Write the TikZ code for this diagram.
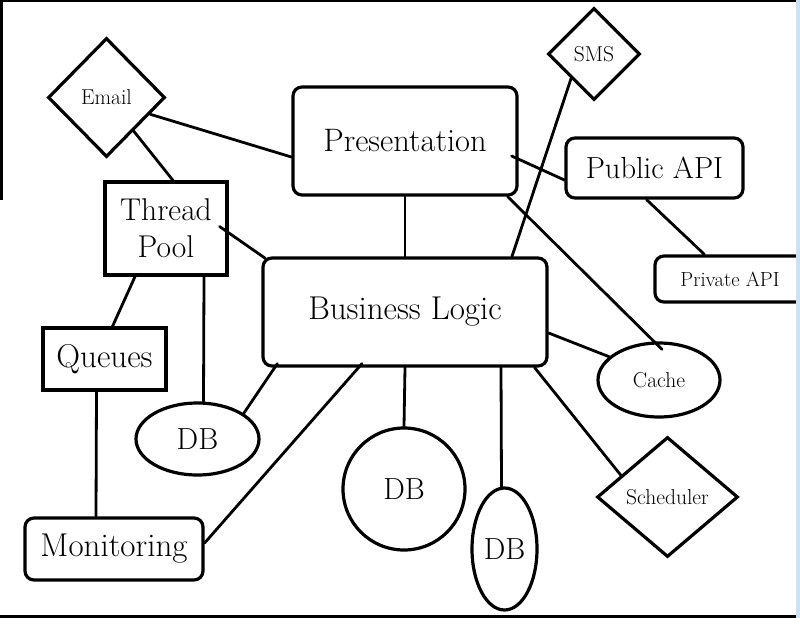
\documentclass[tikz,border=0pt]{standalone}
\usetikzlibrary{shapes.geometric,calc}
\definecolor{stripblue}{RGB}{205,225,243}
\begin{document}
\begin{tikzpicture}[x=1pt,y=-1pt,
  box/.style={draw, line width=3.2pt, inner sep=0pt, align=center},
  rbox/.style={box, rounded corners=9pt},
  conn/.style={line width=2.8pt, line cap=round},
  big/.style={font=\fontsize{32.5}{37}\selectfont},
  mid/.style={font=\fontsize{30.5}{32}\selectfont},
  small/.style={font=\fontsize{21.5}{24}\selectfont}]
\useasboundingbox (0,0) rectangle (800,618);
\clip (0,0) rectangle (800,618);
% frame artifacts
\fill[black] (0,0) rectangle (796,2.5);
\fill[black] (0,0) rectangle (2.5,200);
\fill[black] (0,614.5) rectangle (796,618);
% nodes
\node[rbox, big, minimum width=224, minimum height=108] (pres) at (405,141) {Presentation};
\node[rbox, font=\fontsize{33}{37}\selectfont, minimum width=284, minimum height=108] (bl) at (405,312) {Business Logic};
\node[rbox, font=\fontsize{30.5}{34}\selectfont, minimum width=177, minimum height=60] (pub) at (654.5,168) {Public API};
\node[rbox, font=\fontsize{20.5}{24}\selectfont, minimum width=165, minimum height=46] (priv) at (737.5,279) {Private API\hspace*{15pt}};
\node[box, font=\fontsize{31.5}{37}\selectfont, minimum width=122, minimum height=93] (thread) at (166,228.5) {Thread\\Pool};
\node[box, font=\fontsize{33}{36}\selectfont, minimum width=123, minimum height=62] (queues) at (104.5,359) {Queues};
\node[rbox, font=\fontsize{33}{36}\selectfont, minimum width=178, minimum height=62] (mon) at (114,549) {Monitoring};
\node[box, ellipse, mid, minimum width=123, minimum height=72] (db1) at (197.5,439) {DB};
\node[box, ellipse, mid, minimum width=122, minimum height=122] (db2) at (404,489) {DB};
\node[box, ellipse, mid, minimum width=65, minimum height=122] (db3) at (504.5,549) {DB};
\node[box, ellipse, small, minimum width=122, minimum height=74] (cache) at (659,380) {Cache};
\node[box, diamond, small, minimum width=117, minimum height=119] (email) at (106.5,97.5) {Email};
\node[box, diamond, small, minimum width=92, minimum height=92] (sms) at (594,54) {SMS};
\node[box, diamond, small, minimum width=141, minimum height=120] (sched) at (667.5,497) {Scheduler};
% connectors
\draw[conn] (email.-21) -- ($(pres.west)+(0,16)$);
\draw[conn] (email.-51) -- ($(thread.north)+(7,0)$);
\draw[conn] ($(pres.east)+(-7,15)$) -- ($(pub.west)+(0,12)$);
\draw[conn] (pres.south) -- (bl.north);
\draw[conn] (sms.-133) -- ($(bl.north)+(107,0)$);
\draw[conn] ($(pres.south east)+(-11,0)$) -- ($(cache.north)+(3,8)$);
\draw[conn] ($(pub.south)+(-8,0)$) -- ($(priv.north west)+(51,0)$);
\draw[conn] ($(thread.east)+(-9,-2)$) -- ($(bl.north west)+(4,2)$);
\draw[conn] ($(thread.south)+(-31,0)$) -- ($(queues.north)+(8,0)$);
\draw[conn] ($(thread.south)+(38,0)$) -- ($(db1.north)+(6,0)$);
\draw[conn] ($(queues.south)+(-8,0)$) -- ($(mon.north)+(-18,0)$);
\draw[conn] ($(bl.south west)+(16,-4)$) -- (db1.29);
\draw[conn] ($(bl.south)+(-43,-4)$) -- ($(mon.east)+(0,-6)$);
\draw[conn] (bl.south) -- (db2.north);
\draw[conn] ($(bl.south)+(96,0)$) -- ($(db3.north)+(-3,0)$);
\draw[conn] ($(bl.east)+(0,21)$) -- (cache.155);
\draw[conn] ($(bl.south east)+(-14,0)$) -- (sched.155);
% right edge strip
\fill[stripblue] (796,0) rectangle (800,618);
\end{tikzpicture}
\end{document}
